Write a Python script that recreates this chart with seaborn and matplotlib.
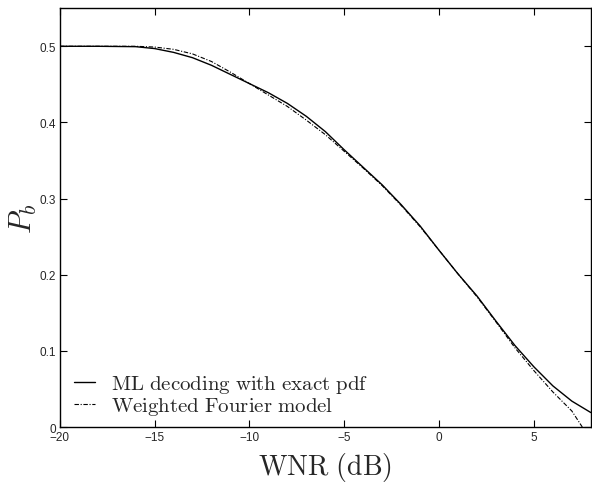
import numpy as np
import pandas as pd
import matplotlib
matplotlib.use("Agg")
import matplotlib.pyplot as plt
import seaborn as sns

# --- data ---
wnr_exact = [-20, -18, -16, -15, -14, -13, -12, -11, -10, -9, -8, -7, -6, -5, -4, -3,
             -2, -1, 0, 1, 2, 3, 4, 5, 6, 7, 8]
pb_exact = [0.500, 0.500, 0.4995, 0.497, 0.492, 0.485, 0.475, 0.463, 0.451, 0.439, 0.425,
            0.408, 0.388, 0.364, 0.341, 0.318, 0.292, 0.264, 0.232, 0.201, 0.172, 0.139,
            0.107, 0.079, 0.054, 0.034, 0.019]

wnr_fourier = [-20, -18, -16, -15, -14, -13, -12, -11, -10, -9, -8, -7, -6, -5, -4, -3,
               -2, -1, 0, 1, 2, 3, 4, 5, 6, 7, 7.55]
pb_fourier = [0.500, 0.500, 0.500, 0.499, 0.496, 0.490, 0.480, 0.466, 0.451, 0.436, 0.421,
              0.403, 0.384, 0.362, 0.340, 0.317, 0.291, 0.263, 0.232, 0.201, 0.171, 0.138,
              0.104, 0.074, 0.046, 0.021, 0.0]

labels = ["ML decoding with exact pdf", "Weighted Fourier model"]

df_exact = pd.DataFrame({"WNR": wnr_exact, "Pb": pb_exact})
df_fourier = pd.DataFrame({"WNR": wnr_fourier, "Pb": pb_fourier})

sns.set_style("ticks")
plt.rcParams["mathtext.fontset"] = "cm"
plt.rcParams["font.family"] = ["Liberation Sans", "DejaVu Sans"]

fig = plt.figure(figsize=(5.92, 4.85), dpi=100)
ax = fig.add_axes([0.101, 0.1175, 0.897, 0.8635])

sns.lineplot(data=df_exact, x="WNR", y="Pb", ax=ax, color="black", linewidth=1.0,
             label=labels[0])
sns.lineplot(data=df_fourier, x="WNR", y="Pb", ax=ax, color="black", linewidth=0.8,
             linestyle=(0, (4, 1.5, 1, 1.5)), label=labels[1])

ax.set_xlim(-20, 8)
ax.set_ylim(0, 0.55)
ax.set_xticks([-20, -15, -10, -5, 0, 5])
ax.set_yticks([0, 0.1, 0.2, 0.3, 0.4, 0.5])
ax.set_xticklabels(["\u221220", "\u221215", "\u221210", "\u22125", "0", "5"])
ax.set_yticklabels(["0", "0.1", "0.2", "0.3", "0.4", "0.5"])
ax.tick_params(direction="in", top=True, right=True, length=5, width=0.8,
               labelsize=8.5, pad=3, color="black")
for s in ax.spines.values():
    s.set_linewidth(1.0)
    s.set_color("black")

ax.set_xlabel(r"$\mathrm{WNR\ (dB)}$", fontsize=20, labelpad=5)
ax.set_ylabel(r"$P_b$", fontsize=22, labelpad=0)

leg = ax.legend(loc="lower left", frameon=False, handlelength=1.0,
                handletextpad=0.75, prop={"size": 15},
                borderaxespad=0.3, labelspacing=0.0, bbox_to_anchor=(0.0, -0.012))
for t in leg.get_texts():
    t.set_text(r"$\mathrm{" + t.get_text().replace(" ", r"\ ") + "}$")

plt.savefig("out.png", dpi=100)
